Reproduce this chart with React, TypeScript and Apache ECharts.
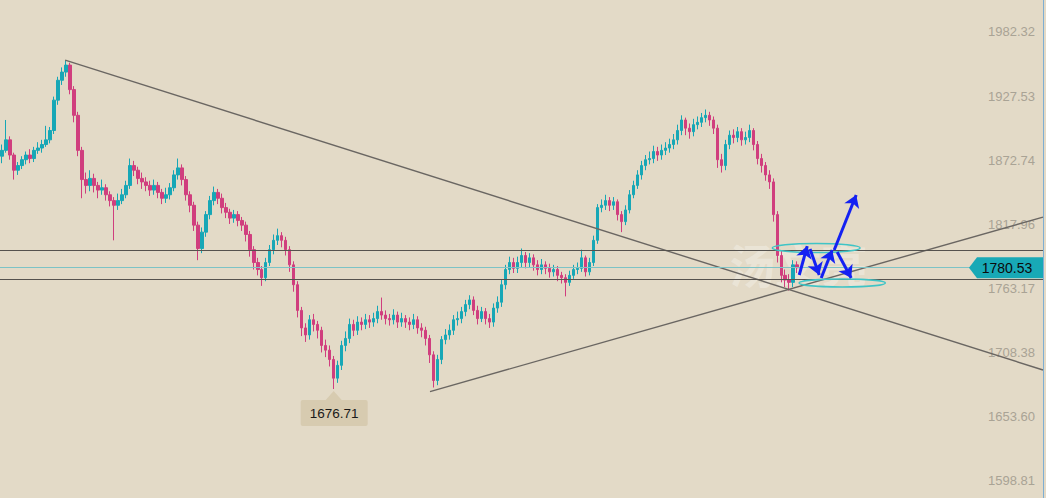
import React, { useEffect, useRef } from "react";
import * as echarts from "echarts";

const firstOpen = 1876;
const closes = [
  1881, 1890, 1877, 1864, 1868, 1873, 1877, 1874, 1881, 1883,
  1886, 1890, 1898, 1924, 1941, 1948, 1954, 1933, 1911, 1881,
  1856, 1851, 1857, 1851, 1847, 1849, 1843, 1838, 1834, 1838,
  1843, 1851, 1868, 1864, 1857, 1854, 1851, 1847, 1851, 1845,
  1840, 1843, 1849, 1860, 1866, 1856, 1843, 1834, 1817, 1797,
  1811, 1826, 1838, 1845, 1840, 1832, 1828, 1823, 1826, 1821,
  1817, 1809, 1796, 1785, 1779, 1772, 1785, 1796, 1804, 1808,
  1804, 1796, 1783, 1766, 1744, 1729, 1723, 1736, 1732, 1727,
  1714, 1710, 1702, 1686, 1697, 1714, 1720, 1732, 1727, 1734,
  1732, 1736, 1734, 1737, 1743, 1740, 1737, 1736, 1740, 1734,
  1737, 1734, 1732, 1736, 1729, 1727, 1720, 1706, 1684, 1702,
  1719, 1723, 1727, 1736, 1737, 1743, 1749, 1753, 1744, 1737,
  1743, 1737, 1734, 1746, 1751, 1766, 1779, 1785, 1780, 1785,
  1791, 1785, 1789, 1783, 1779, 1783, 1780, 1777, 1779, 1774,
  1772, 1768, 1774, 1779, 1780, 1789, 1777, 1785, 1804, 1832,
  1834, 1838, 1834, 1837, 1826, 1820, 1830, 1843, 1851, 1860,
  1868, 1873, 1874, 1880, 1877, 1881, 1883, 1886, 1890, 1898,
  1907, 1900, 1897, 1903, 1905, 1909, 1911, 1907, 1900, 1873,
  1868, 1886, 1894, 1892, 1897, 1890, 1892, 1898, 1886, 1874,
  1868, 1860, 1854, 1826, 1791, 1774, 1770, 1768, 1783, 1780.53,
];
const highs = [
  1886, 1907, 1893, 1879, 1871, 1876, 1880, 1882, 1884, 1888,
  1890, 1902, 1901, 1927, 1944, 1952, 1958, 1956, 1936, 1914,
  1884, 1862, 1864, 1861, 1854, 1856, 1852, 1846, 1841, 1844,
  1848, 1855, 1874, 1872, 1867, 1862, 1858, 1855, 1856, 1854,
  1848, 1849, 1853, 1864, 1874, 1869, 1859, 1846, 1837, 1820,
  1815, 1829, 1842, 1850, 1848, 1844, 1836, 1831, 1830, 1829,
  1824, 1820, 1812, 1799, 1789, 1782, 1789, 1800, 1809, 1814,
  1811, 1807, 1799, 1786, 1769, 1747, 1733, 1740, 1741, 1735,
  1730, 1719, 1714, 1705, 1701, 1718, 1726, 1737, 1736, 1739,
  1738, 1741, 1740, 1742, 1748, 1755, 1744, 1741, 1745, 1743,
  1742, 1740, 1738, 1741, 1739, 1733, 1730, 1723, 1709, 1706,
  1722, 1728, 1732, 1740, 1743, 1747, 1753, 1757, 1756, 1748,
  1747, 1746, 1741, 1750, 1756, 1770, 1783, 1790, 1789, 1790,
  1797, 1794, 1793, 1792, 1787, 1788, 1786, 1784, 1783, 1782,
  1777, 1775, 1778, 1783, 1785, 1796, 1791, 1789, 1808, 1835,
  1839, 1843, 1841, 1841, 1839, 1829, 1834, 1847, 1855, 1864,
  1872, 1877, 1880, 1885, 1884, 1886, 1888, 1891, 1895, 1903,
  1911, 1909, 1904, 1908, 1910, 1913, 1916, 1914, 1910, 1903,
  1878, 1890, 1898, 1899, 1901, 1900, 1897, 1903, 1900, 1889,
  1878, 1871, 1864, 1857, 1829, 1795, 1779, 1775, 1787, 1786,
];
const lows = [
  1870, 1879, 1873, 1856, 1860, 1865, 1869, 1870, 1871, 1878,
  1879, 1884, 1887, 1895, 1920, 1937, 1944, 1929, 1905, 1876,
  1840, 1844, 1846, 1845, 1840, 1843, 1838, 1833, 1804, 1830,
  1835, 1840, 1848, 1859, 1852, 1848, 1846, 1842, 1843, 1840,
  1835, 1836, 1839, 1846, 1856, 1851, 1838, 1828, 1812, 1787,
  1793, 1807, 1822, 1834, 1835, 1827, 1823, 1818, 1819, 1816,
  1812, 1803, 1790, 1779, 1774, 1765, 1769, 1782, 1792, 1800,
  1798, 1791, 1777, 1760, 1738, 1722, 1717, 1719, 1726, 1720,
  1708, 1704, 1696, 1676.71, 1682, 1693, 1709, 1716, 1722, 1723,
  1727, 1728, 1729, 1730, 1733, 1736, 1732, 1731, 1732, 1729,
  1730, 1729, 1727, 1728, 1724, 1721, 1714, 1699, 1678, 1680,
  1698, 1715, 1719, 1723, 1731, 1733, 1739, 1745, 1740, 1732,
  1734, 1732, 1729, 1730, 1742, 1747, 1762, 1775, 1776, 1776,
  1781, 1780, 1781, 1778, 1774, 1775, 1775, 1772, 1773, 1769,
  1767, 1756, 1765, 1771, 1775, 1777, 1773, 1774, 1782, 1801,
  1828, 1830, 1829, 1830, 1821, 1811, 1817, 1827, 1840, 1848,
  1856, 1864, 1869, 1870, 1872, 1873, 1877, 1879, 1882, 1886,
  1894, 1894, 1891, 1893, 1899, 1901, 1905, 1902, 1895, 1866,
  1862, 1864, 1882, 1887, 1888, 1885, 1886, 1888, 1881, 1869,
  1862, 1855, 1848, 1820, 1785, 1768, 1764, 1761, 1764, 1776,
];

const totalSlots = 261;
const yTickValues = [1598.81, 1653.6, 1708.38, 1763.17, 1817.96, 1872.74, 1927.53, 1982.32];
const yMin = 1583.42;
const yMax = 2009.71;
const levelLines = [1795.7, 1770.9];
const lastPrice = 1780.53;
const minPoint = [83, 1676.71];
const downTrend = [[15.8, 1958.3], [260.5, 1693.0]];
const upTrend = [[107.1, 1674.5], [260.5, 1823.9]];
const arrows = [
  [[199.5, 1774.3], [201.5, 1799.1]],
  [[202.2, 1796.6], [204.5, 1774.3]],
  [[205.0, 1771.7], [207.75, 1795.7]],
  [[208.25, 1795.7], [213.75, 1842.8]],
  [[209.0, 1794.0], [212.5, 1771.7]],
];
const ellipses = [
  { cx: 203.75, cy: 1797.4, rx: 11, ry: 3.9 },
  { cx: 210.25, cy: 1767.5, rx: 10.8, ry: 3.4 },
];
const watermark = "汤文亮";

const UP = "#17a7b6";
const DOWN = "#d03e7e";
const BG = "#e3dac7";
const FONT = "'Liberation Sans', Arial, sans-serif";

export default function App() {
  const ref = useRef<HTMLDivElement>(null);

  useEffect(() => {
    if (!ref.current) return;
    const chart = echarts.init(ref.current, undefined, { renderer: "svg" });
    const categories = Array.from({ length: totalSlots }, (_, i) => String(i));
    const candles = closes.map((c, i) => [i === 0 ? firstOpen : closes[i - 1], c, lows[i], highs[i]]);

    chart.setOption({
      animation: false,
      backgroundColor: BG,
      grid: { left: 0, right: 3, top: 0, bottom: 0, outerBoundsMode: "none" },
      xAxis: [
        { type: "category", data: categories, show: false, boundaryGap: true },
        { type: "value", min: -0.5, max: totalSlots - 0.5, show: false },
      ],
      yAxis: {
        type: "value",
        position: "right",
        min: yMin,
        max: yMax,
        axisLine: { show: true, onZero: false, lineStyle: { color: "#7eaed3", width: 1 } },
        axisTick: { show: false },
        splitLine: { show: false },
        axisLabel: {
          inside: true,
          margin: 8,
          color: "#a9a395",
          fontSize: 13,
          fontFamily: FONT,
          customValues: yTickValues,
          formatter: (v: number) => v.toFixed(2),
        },
      },
      series: [
        {
          type: "candlestick",
          data: candles,
          barWidth: 3,
          itemStyle: { color: UP, color0: DOWN, borderColor: UP, borderColor0: DOWN, borderWidth: 1 },
          markLine: {
            silent: true,
            symbol: "none",
            label: { show: false },
            data: [
              { yAxis: levelLines[0], lineStyle: { color: "#55524e", width: 1, type: "solid" } },
              { yAxis: lastPrice, lineStyle: { color: "#7cc3c6", width: 1, type: "solid" } },
              { yAxis: levelLines[1], lineStyle: { color: "#55524e", width: 1, type: "solid" } },
            ],
          },
        },
        {
          type: "line",
          xAxisIndex: 1,
          data: downTrend,
          symbol: "none",
          silent: true,
          lineStyle: { color: "#6a6662", width: 1.4 },
        },
        {
          type: "line",
          xAxisIndex: 1,
          data: upTrend,
          symbol: "none",
          silent: true,
          lineStyle: { color: "#6a6662", width: 1.4 },
        },
        {
          type: "lines",
          coordinateSystem: "cartesian2d",
          xAxisIndex: 1,
          yAxisIndex: 0,
          symbol: ["none", "arrow"],
          symbolSize: [0, 12],
          lineStyle: { color: "#1421f2", width: 3, opacity: 1 },
          z: 10,
          data: arrows.map((a) => ({ coords: a })),
        },
      ],
    });

    const toPx = (p: number[]) => chart.convertToPixel({ xAxisIndex: 1, yAxisIndex: 0 }, p) as number[];
    const gridRight = chart.getWidth() - 3;
    const lp = toPx([0, lastPrice]);
    const mp = toPx(minPoint);
    const ellG = ellipses.map((e) => {
      const c = toPx([e.cx, e.cy]);
      const r = toPx([e.cx + e.rx, e.cy + e.ry]);
      return {
        type: "ellipse",
        shape: { cx: c[0], cy: c[1], rx: Math.abs(r[0] - c[0]), ry: Math.abs(r[1] - c[1]) },
        style: { fill: "none", stroke: "#3fc4c6", lineWidth: 1.5 },
        z: 5,
        silent: true,
      };
    });
    const wmP = toPx([182, 1785]);

    chart.setOption({
      graphic: [
        {
          type: "text",
          x: wmP[0],
          y: wmP[1],
          style: {
            text: watermark,
            fill: "rgba(255,255,255,0.3)",
            font: "bold 46px 'Noto Sans CJK SC'",
            verticalAlign: "middle",
          },
          z: 1,
          silent: true,
        },
        ...ellG,
        {
          type: "polygon",
          shape: {
            points: [
              [gridRight - 74, lp[1]],
              [gridRight - 66, lp[1] - 10.5],
              [gridRight, lp[1] - 10.5],
              [gridRight, lp[1] + 10.5],
              [gridRight - 66, lp[1] + 10.5],
            ],
          },
          style: { fill: "#18a9b6" },
          z: 20,
        },
        {
          type: "text",
          x: gridRight - 36,
          y: lp[1],
          style: {
            text: lastPrice.toFixed(2),
            fill: "#0b0b0b",
            font: `14px ${FONT}`,
            align: "center",
            verticalAlign: "middle",
          },
          z: 21,
        },
        {
          type: "polygon",
          shape: {
            points: [
              [mp[0], mp[1] + 2],
              [mp[0] - 8, mp[1] + 11],
              [mp[0] + 8, mp[1] + 11],
            ],
          },
          style: { fill: "#d7cbb0" },
          z: 20,
        },
        {
          type: "rect",
          shape: { x: mp[0] - 33, y: mp[1] + 11, width: 67, height: 26, r: 2 },
          style: { fill: "#d7cbb0" },
          z: 20,
        },
        {
          type: "text",
          x: mp[0] + 0.5,
          y: mp[1] + 24,
          style: {
            text: minPoint[1].toFixed(2),
            fill: "#1a1a1a",
            font: `13.5px ${FONT}`,
            align: "center",
            verticalAlign: "middle",
          },
          z: 21,
        },
      ],
    });

    return () => chart.dispose();
  }, []);

  return (
    <div
      ref={ref}
      style={{ position: "fixed", left: 0, top: 0, width: 1046, height: 498 }}
    />
  );
}
